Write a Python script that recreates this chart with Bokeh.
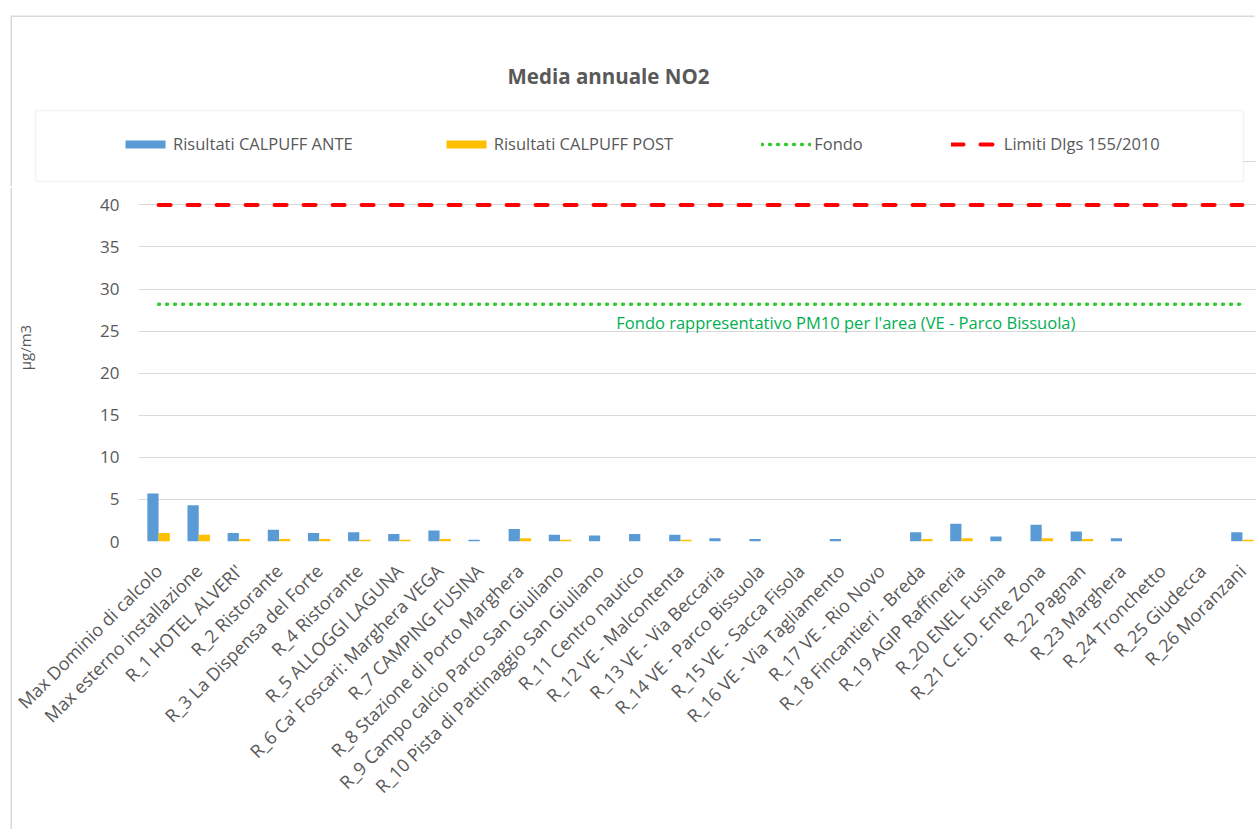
import numpy as np
from math import pi
from bokeh.plotting import figure
from bokeh.models import (Range1d, FixedTicker, CustomJSTickFormatter, Legend, LegendItem,
                          Label, BoxAnnotation, ColumnDataSource)
from bokeh.embed import file_html
from bokeh.resources import INLINE

# ---------------- data ----------------
categories = [
    "Max Dominio di calcolo", "Max esterno installazione", "R_1 HOTEL ALVERI'", "R_2 Ristorante",
    "R_3 La Dispensa del Forte", "R_4 Ristorante", "R_5 ALLOGGI LAGUNA",
    "R_6 Ca' Foscari: Marghera VEGA", "R_7 CAMPING FUSINA", "R_8 Stazione di Porto Marghera",
    "R_9 Campo calcio Parco San Giuliano", "R_10 Pista di Pattinaggio San Giuliano",
    "R_11 Centro nautico", "R_12 VE - Malcontenta", "R_13 VE - Via Beccaria",
    "R_14 VE - Parco Bissuola", "R_15 VE - Sacca Fisola", "R_16 VE - Via Tagliamento",
    "R_17 VE - Rio Novo", "R_18 Fincantieri - Breda", "R_19 AGIP Raffineria",
    "R_20 ENEL Fusina", "R_21 C.E.D. Ente Zona", "R_22 Pagnan", "R_23 Marghera",
    "R_24 Tronchetto", "R_25 Giudecca", "R_26 Moranzani",
]
ante = [5.7, 4.3, 1.0, 1.4, 1.0, 1.1, 0.9, 1.3, 0.2, 1.5, 0.8, 0.7, 0.9, 0.8,
        0.4, 0.3, 0.0, 0.3, 0.0, 1.1, 2.1, 0.6, 2.0, 1.2, 0.4, 0.0, 0.0, 1.1]
post = [1.0, 0.8, 0.3, 0.3, 0.3, 0.2, 0.2, 0.3, 0.0, 0.4, 0.2, 0.0, 0.0, 0.2,
        0.0, 0.0, 0.0, 0.0, 0.0, 0.3, 0.4, 0.0, 0.4, 0.3, 0.0, 0.0, 0.0, 0.2]
fondo_value = 28.2
limite_value = 40
y_ticks = [0, 5, 10, 15, 20, 25, 30, 35, 40]

title_text = "Media annuale NO2"
y_label = "µg/m3"
fondo_label = "Fondo rappresentativo PM10 per l'area (VE - Parco Bissuola)"
legend_labels = ["Risultati CALPUFF ANTE", "Risultati CALPUFF POST", "Fondo", "Limiti Dlgs 155/2010"]

# ---------------- styles ----------------
FONT = "Open Sans"
GREY = "#595959"
GRID = "#D9D9D9"
BLUE = "#5B9BD5"
YELLOW = "#FFC000"
GREEN = "#33CC33"
GREEN_TXT = "#00B050"
RED = "#FF0000"

n = len(categories)
xc = np.arange(n) + 0.5
bw = 0.28

W = 1244          # canvas width (page x 12 .. 1256)
HH = 171          # header height (page y 17 .. 188)
MH = 641          # main height (page y 188 .. 829)
FL = 125          # frame left inside main canvas (page 137)
FB_BORDER = 288   # bottom border (frame bottom at page 541)


def bare(fig):
    fig.outline_line_color = None
    fig.background_fill_color = "white"
    fig.border_fill_color = "white"


# ---------------- main chart ----------------
p = figure(width=W, height=MH, output_backend="svg", toolbar_location=None,
           x_range=Range1d(0, 27.85), y_range=Range1d(0, 41),
           min_border_left=FL, min_border_right=0, min_border_top=8,
           min_border_bottom=FB_BORDER, margin=(0, 0, 0, 12),
           styles={"box-shadow": "-1.5px 0 0 0 #D9D9D9"})
bare(p)

src = ColumnDataSource(dict(xa=xc - bw / 2, xp=xc + bw / 2, ante=ante, post=post))
r1 = p.vbar(x="xa", top="ante", width=bw, source=src, fill_color=BLUE, line_color=None)
r2 = p.vbar(x="xp", top="post", width=bw, source=src, fill_color=YELLOW, line_color=None)
r3 = p.line(xc, np.full(n, fondo_value), line_color=GREEN, line_width=3.5,
            line_dash="1 7", line_cap="round")
r4 = p.line(xc, np.full(n, limite_value), line_color=RED, line_width=4,
            line_dash="12 17", line_cap="round")

p.yaxis.ticker = FixedTicker(ticks=y_ticks)
p.ygrid.ticker = FixedTicker(ticks=y_ticks)
p.ygrid.grid_line_color = GRID
p.xgrid.grid_line_color = None
p.yaxis.axis_line_color = None
p.yaxis.major_tick_line_color = None
p.yaxis.minor_tick_line_color = None
p.yaxis.major_tick_out = 0
p.yaxis.major_tick_in = 0
p.yaxis.major_label_standoff = 19
p.yaxis.major_label_text_font = FONT
p.yaxis.major_label_text_font_size = "17px"
p.yaxis.major_label_text_color = GREY
# leading no-break spaces lift the centred label slightly, as in the original
p.yaxis.axis_label = "\u00a0" * 11 + y_label
p.yaxis.axis_label_text_font = FONT
p.yaxis.axis_label_text_font_style = "normal"
p.yaxis.axis_label_text_font_size = "15px"
p.yaxis.axis_label_text_color = GREY
p.yaxis.axis_label_standoff = 62

p.xaxis.ticker = FixedTicker(ticks=list(xc))
p.xaxis.formatter = CustomJSTickFormatter(
    args=dict(names=categories),
    code="const i = Math.round(tick - 0.5); return (i >= 0 && i < names.length) ? names[i] : '';")
p.xaxis.major_label_orientation = pi / 4
p.xaxis.axis_line_color = None
p.xaxis.major_tick_line_color = None
p.xaxis.minor_tick_line_color = None
p.xaxis.major_tick_out = 0
p.xaxis.major_tick_in = 0
p.xaxis.major_label_standoff = 26
p.xaxis.major_label_text_font = FONT
p.xaxis.major_label_text_font_size = "18px"
p.xaxis.major_label_text_color = GREY

p.add_layout(Label(x=17.62, y=26.0, text=fondo_label, text_align="center", text_baseline="middle",
                   text_font=FONT, text_font_size="16.5px", text_color=GREEN_TXT))

# ---------------- header: title + legend ----------------
h = figure(width=W, height=HH, output_backend="svg", toolbar_location=None,
           x_range=Range1d(0, W), y_range=Range1d(0, HH),
           x_axis_location=None, y_axis_location=None,
           min_border=0, min_border_left=0, min_border_right=0,
           min_border_top=0, min_border_bottom=0, margin=(17, 0, 0, 12),
           styles={"box-shadow": "-1.5px -1.5px 0 0 #D9D9D9"})
bare(h)
h.xgrid.visible = False
h.ygrid.visible = False

h.add_layout(Label(x=596, y=113, text=title_text, text_align="center", text_baseline="middle",
                   text_font=FONT, text_font_style="bold", text_font_size="20.5px",
                   text_color=GREY))
h.add_layout(BoxAnnotation(left=23, right=1231, bottom=7, top=78, fill_alpha=0,
                           line_color=GRID, line_width=1.5))
h.add_layout(BoxAnnotation(left=1231, right=W, bottom=26.5, top=27.5, fill_color=GRID,
                           fill_alpha=1, line_color=None))

# legend swatches: hidden copies of the series (styles only are shown in the legend)
lsrc = ColumnDataSource(dict(x=xc, ante=ante, post=post,
                             fondo=np.full(n, fondo_value), lim=np.full(n, limite_value)))
lb1 = h.vbar(x="x", top="ante", width=bw, source=lsrc, fill_color=BLUE, line_color=None,
             visible=False)
lb2 = h.vbar(x="x", top="post", width=bw, source=lsrc, fill_color=YELLOW, line_color=None,
             visible=False)
ll3 = h.line(x="x", y="fondo", source=lsrc, line_color=GREEN, line_width=3.5,
             line_dash="1 7", line_cap="round", visible=False)
ll4 = h.line(x="x", y="lim", source=lsrc, line_color=RED, line_width=4,
             line_dash="12 17", line_cap="round", visible=False)
legend = Legend(items=[LegendItem(label=legend_labels[0], renderers=[lb1]),
                       LegendItem(label=legend_labels[1], renderers=[lb2]),
                       LegendItem(label=legend_labels[2], renderers=[ll3]),
                       LegendItem(label=legend_labels[3], renderers=[ll4])],
                orientation="horizontal", location=(108, 33),
                spacing=88, padding=0, margin=0, glyph_width=50, glyph_height=10,
                label_standoff=3, label_text_font=FONT, label_text_font_size="16.5px",
                label_text_color=GREY, border_line_color=None, background_fill_alpha=0)
h.add_layout(legend, "center")

open("out.html", "w").write(file_html([h, p], INLINE))
